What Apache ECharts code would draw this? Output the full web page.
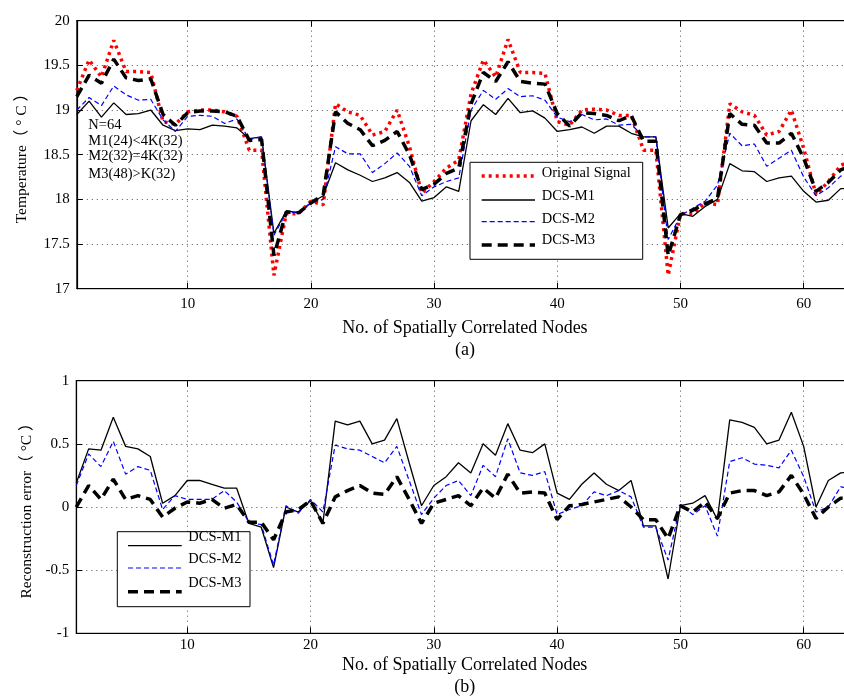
<!DOCTYPE html>
<html>
<head>
<meta charset="utf-8">
<script src="https://cdn.jsdelivr.net/npm/echarts@6/dist/echarts.min.js"></script>
<style>html,body{margin:0;padding:0;background:#fff;}#c{width:844px;height:698px;}</style>
</head>
<body>
<div id="c"></div>
<script>
// ---- data ----
const nodes = Array.from({length: 64}, (_, i) => i + 1);
const xTicks = [10, 20, 30, 40, 50, 60];

const originalSignal = [19.22,19.56,19.37,19.78,19.43,19.43,19.42,18.87,18.84,18.98,19.0,19.0,18.98,18.93,18.55,18.55,17.15,17.84,17.84,17.98,17.94,19.07,18.98,18.94,18.72,18.76,19.0,18.59,18.07,18.2,18.35,18.44,19.18,19.56,19.37,19.79,19.42,19.42,19.41,18.87,18.83,19.0,19.01,19.0,18.94,18.94,18.55,18.55,17.15,17.84,17.84,17.96,17.94,19.07,18.98,18.94,18.72,18.76,19.0,18.57,18.05,18.2,18.38,18.44];
const dcsM1 = [18.95,19.1,18.92,19.08,18.95,18.96,19.0,18.83,18.77,18.79,18.78,18.83,18.82,18.8,18.68,18.7,17.62,17.87,17.85,17.96,18.04,18.41,18.33,18.27,18.2,18.24,18.3,18.19,17.98,18.02,18.14,18.09,18.88,19.06,18.95,19.13,18.97,18.99,18.91,18.76,18.78,18.81,18.74,18.82,18.82,18.74,18.7,18.7,17.68,17.84,17.81,17.92,18.0,18.4,18.32,18.31,18.2,18.24,18.26,18.09,17.97,17.99,18.12,18.12];
const dcsM2 = [19.0,19.14,19.05,19.27,19.17,19.11,19.12,18.89,18.76,18.93,18.94,18.93,18.85,18.9,18.67,18.7,17.6,17.85,17.86,17.96,18.0,18.59,18.51,18.51,18.3,18.4,18.52,18.37,18.04,18.14,18.2,18.24,19.0,19.22,19.12,19.24,19.15,19.16,19.11,18.92,18.87,18.95,18.89,18.9,18.83,18.84,18.7,18.7,17.55,17.82,17.9,17.98,18.16,18.74,18.6,18.62,18.37,18.46,18.55,18.25,18.04,18.13,18.26,18.3];
const dcsM3 = [19.15,19.39,19.3,19.57,19.36,19.33,19.35,18.95,18.83,18.97,18.99,18.99,18.98,18.93,18.66,18.67,17.37,17.86,17.85,17.96,18.05,18.98,18.85,18.78,18.6,18.66,18.76,18.5,18.11,18.17,18.29,18.35,19.07,19.42,19.32,19.54,19.32,19.3,19.29,18.96,18.82,18.97,18.96,18.94,18.88,18.94,18.65,18.65,17.37,17.83,17.88,17.95,18.01,18.96,18.84,18.83,18.63,18.63,18.74,18.46,18.09,18.19,18.33,18.38];

const errM1 = [0.19,0.46,0.45,0.71,0.48,0.46,0.40,0.03,0.09,0.21,0.21,0.18,0.15,0.15,-0.13,-0.16,-0.48,0.0,-0.04,0.05,-0.13,0.68,0.65,0.68,0.50,0.53,0.70,0.35,0.01,0.17,0.24,0.35,0.27,0.50,0.41,0.66,0.45,0.43,0.50,0.11,0.06,0.18,0.27,0.18,0.13,0.21,-0.15,-0.15,-0.57,0.01,0.03,0.09,-0.10,0.69,0.67,0.63,0.50,0.53,0.75,0.48,0.0,0.21,0.27,0.28];
const errM2 = [0.17,0.42,0.32,0.52,0.26,0.32,0.29,-0.02,0.09,0.06,0.06,0.06,0.13,0.04,-0.12,-0.14,-0.46,0.01,-0.05,0.06,-0.04,0.49,0.46,0.45,0.40,0.35,0.48,0.21,-0.06,0.07,0.17,0.21,0.09,0.33,0.24,0.54,0.27,0.25,0.28,-0.06,-0.02,0.01,0.12,0.09,0.13,0.08,-0.16,-0.16,-0.42,0.02,-0.06,0.01,-0.23,0.36,0.39,0.34,0.33,0.31,0.45,0.24,-0.04,0.0,0.16,0.14];
const errM3 = [0.0,0.17,0.06,0.22,0.06,0.09,0.06,-0.08,-0.01,0.04,0.03,0.06,-0.01,0.02,-0.12,-0.12,-0.26,-0.04,-0.02,0.05,-0.13,0.08,0.13,0.17,0.11,0.10,0.24,0.06,-0.13,0.03,0.06,0.09,0.01,0.15,0.07,0.26,0.11,0.12,0.11,-0.10,0.01,0.02,0.04,0.06,0.08,0.0,-0.10,-0.10,-0.25,0.01,-0.04,0.04,-0.09,0.11,0.13,0.13,0.09,0.12,0.25,0.10,-0.09,0.0,0.07,0.06];

const topLegend = ['Original Signal', 'DCS-M1', 'DCS-M2', 'DCS-M3'];
const bottomLegend = ['DCS-M1', 'DCS-M2', 'DCS-M3'];
const noteLines = ['N=64', 'M1(24)<4K(32)', 'M2(32)=4K(32)', 'M3(48)>K(32)'];

// ---- styles ----
const FONT = '"Liberation Serif", "Times New Roman", serif';
const NAMEFONT = '"Liberation Serif", "Noto Sans CJK SC", serif';
const S = {
  orig: {color: '#ff0000', width: 3.5, type: [3, 4]},
  m1: {color: '#000000', width: 1.3, type: 'solid'},
  m2: {color: '#0000ff', width: 1.2, type: [5, 3]},
  m3: {color: '#000000', width: 3.5, type: [10, 6]}
};
const gridLine = {show: true, lineStyle: {color: '#555', width: 1, type: [1, 4]}};

function pair(arr) { return nodes.map((n, i) => [n, arr[i]]); }

function xAxisDef(gridIndex, bottom, labelMargin, name, nameGap) {
  return {
    gridIndex, type: 'value', min: 1, max: 64, position: bottom ? 'bottom' : 'top',
    axisLine: {show: true, onZero: false, lineStyle: {color: '#000', width: 1.2}},
    axisTick: {show: true, inside: true, length: 6, customValues: xTicks, lineStyle: {color: '#000'}},
    axisLabel: {show: bottom, customValues: xTicks, margin: labelMargin, fontFamily: FONT, fontSize: 15, color: '#000'},
    splitLine: bottom ? gridLine : {show: false},
    name: bottom ? name : '', nameLocation: 'middle', nameGap: nameGap,
    nameTextStyle: {fontFamily: FONT, fontSize: 18, color: '#000', lineHeight: 22}
  };
}
function yAxisDef(gridIndex, min, max, name, nameGap) {
  return {
    gridIndex, type: 'value', min, max, interval: 0.5,
    axisLine: {show: true, onZero: false, lineStyle: {color: '#000', width: 1.2}},
    axisTick: {show: true, inside: true, length: 6, lineStyle: {color: '#000'}},
    axisLabel: {margin: 7, fontFamily: FONT, fontSize: 15, color: '#000'},
    splitLine: gridLine,
    name, nameLocation: 'middle', nameGap, nameRotate: 90,
    nameTextStyle: {fontFamily: NAMEFONT, fontSize: 15.5, color: '#000'}
  };
}
function line(name, data, st, xi, yi, z) {
  return {
    name, type: 'line', xAxisIndex: xi, yAxisIndex: yi, data: pair(data),
    symbol: 'none', smooth: false, z,
    lineStyle: {color: st.color, width: st.width, type: st.type}
  };
}

// legend graphics
function legendGraphic(x0, y0, w, h, items, styles, lx0, lx1, tx, lineYs, textYs) {
  const els = [{type: 'rect', shape: {x: x0, y: y0, width: w, height: h}, style: {fill: '#fff', stroke: '#000', lineWidth: 1}, z: 100}];
  items.forEach((it, i) => {
    const st = styles[i];
    els.push({type: 'line', shape: {x1: lx0, y1: lineYs[i], x2: lx1, y2: lineYs[i]},
      style: {stroke: st.color, lineWidth: st.width, lineDash: Array.isArray(st.type) ? st.type : null}, z: 101});
    els.push({type: 'text', x: tx, y: textYs[i], style: {text: it, font: '14.5px ' + FONT, fill: '#000', textVerticalAlign: 'middle', textAlign: 'left'}, z: 101});
  });
  return els;
}

const graphics = []
  .concat(legendGraphic(470, 162.3, 172.7, 97, topLegend, [S.orig, S.m1, S.m2, S.m3], 481.7, 535, 541.7,
    [176, 200, 221.7, 245], [172.7, 195.7, 219, 240]))
  .concat(legendGraphic(117.3, 531.7, 132.7, 75, bottomLegend, [S.m1, S.m2, S.m3], 128, 181.7, 188.3,
    [545.7, 568, 591.7], [536.7, 559, 582.7]));
[125, 140.7, 156.3, 174].forEach((y, i) => {
  graphics.push({type: 'text', x: 88.3, y, style: {text: noteLines[i], font: '14.5px ' + FONT, fill: '#000', textVerticalAlign: 'middle'}, z: 100});
});

const chart = echarts.init(document.getElementById('c'), null, {renderer: 'canvas'});
chart.setOption({
  animation: false,
  backgroundColor: '#fff',
  grid: [
    {left: 76.8, top: 20.7, width: 776.2, height: 268, show: true, borderColor: '#000', borderWidth: 1, outerBoundsMode: 'none', containLabel: false},
    {left: 76.3, top: 380.7, width: 776.7, height: 252.6, show: true, borderColor: '#000', borderWidth: 1, outerBoundsMode: 'none', containLabel: false}
  ],
  xAxis: [
    xAxisDef(0, true, 8, 'No. of Spatially Correlated Nodes\n(a)', 29),
    xAxisDef(0, false, 8, '', 0),
    xAxisDef(1, true, 4, 'No. of Spatially Correlated Nodes\n(b)', 21),
    xAxisDef(1, false, 4, '', 0)
  ],
  yAxis: [
    yAxisDef(0, 17, 20, 'Temperature（ ° C ）', 47),
    yAxisDef(1, -1, 1, 'Reconstruction error（ °C ）', 41)
  ],
  series: [
    line('Original Signal', originalSignal, S.orig, 0, 0, 2),
    line('DCS-M1', dcsM1, S.m1, 0, 0, 3),
    line('DCS-M2', dcsM2, S.m2, 0, 0, 4),
    line('DCS-M3', dcsM3, S.m3, 0, 0, 5),
    line('DCS-M1 error', errM1, S.m1, 2, 1, 3),
    line('DCS-M2 error', errM2, S.m2, 2, 1, 4),
    line('DCS-M3 error', errM3, S.m3, 2, 1, 5)
  ],
  graphic: graphics
});
</script>
</body>
</html>
